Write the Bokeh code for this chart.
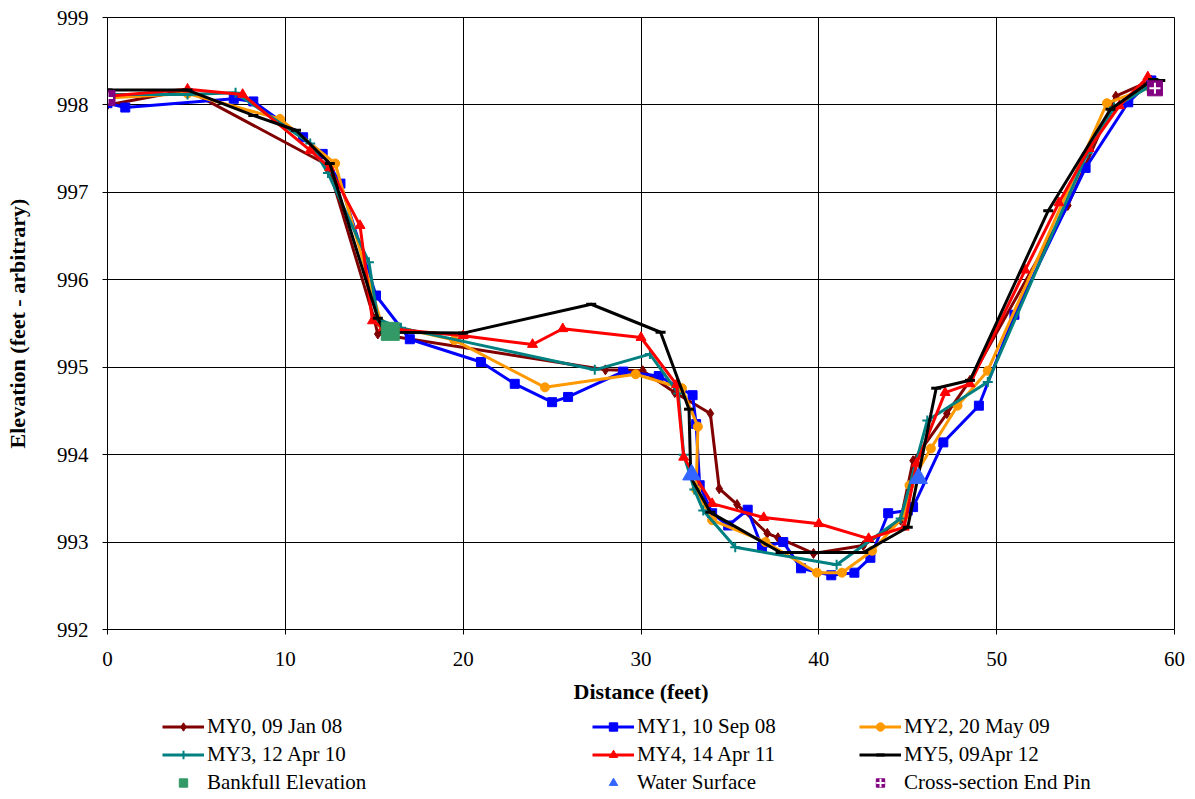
from bokeh.plotting import figure
from bokeh.layouts import column
from bokeh.models import Legend, LegendItem, Range1d, FixedTicker
from bokeh.embed import file_html
from bokeh.resources import INLINE

# ---- data ----
my0_x = [0, 4.5, 12.4, 15.0, 15.2, 28.0, 30.1, 31.9, 33.9, 34.4, 35.4, 37.1, 37.7, 39.7, 42.5, 44.6, 45.3, 47.2, 48.5, 54.0, 56.7, 58.7]
my0_y = [998.0, 998.17, 997.31, 995.55, 995.38, 994.97, 994.96, 994.71, 994.47, 993.61, 993.43, 993.1, 993.05, 992.87, 992.96, 993.25, 993.93, 994.47, 994.85, 996.85, 998.1, 998.28]

my1_x = [0, 1.0, 7.1, 8.2, 11.0, 12.1, 13.1, 15.1, 17.0, 21.0, 22.9, 25.0, 25.9, 29.0, 31.0, 32.9, 33.1, 33.3, 34.0, 34.9, 36.0, 36.8, 38.0, 39.0, 40.7, 42.0, 42.9, 43.9, 45.0, 45.3, 47.0, 49.0, 51.0, 55.0, 57.4, 58.7]
my1_y = [998.02, 997.97, 998.07, 998.04, 997.63, 997.44, 997.1, 995.82, 995.32, 995.06, 994.81, 994.6, 994.66, 994.95, 994.9, 994.68, 994.35, 993.65, 993.33, 993.19, 993.37, 992.94, 993.0, 992.7, 992.62, 992.65, 992.82, 993.33, 993.36, 993.4, 994.14, 994.56, 995.6, 997.28, 998.03, 998.28]

my2_x = [0, 4.5, 9.7, 12.8, 15.4, 19.5, 24.6, 29.7, 32.3, 33.2, 33.1, 34.0, 37.0, 39.9, 41.3, 43.0, 44.8, 45.1, 46.3, 47.8, 49.5, 56.2, 58.6]
my2_y = [998.08, 998.13, 997.84, 997.33, 995.5, 995.31, 994.77, 994.92, 994.76, 994.32, 993.6, 993.25, 993.0, 992.65, 992.65, 992.9, 993.3, 993.65, 994.07, 994.56, 994.96, 998.02, 998.2]

my3_x = [0, 4.5, 7.2, 11.4, 12.4, 14.7, 15.2, 16.5, 27.4, 30.5, 32.1, 32.4, 33.0, 33.5, 35.3, 41.0, 44.6, 46.1, 49.5, 55.1, 56.6, 58.5]
my3_y = [998.12, 998.12, 998.14, 997.56, 997.22, 996.2, 995.55, 995.45, 994.97, 995.15, 994.7, 994.0, 993.6, 993.36, 992.94, 992.74, 993.27, 994.39, 994.83, 997.45, 997.97, 998.2]

my4_x = [0, 4.5, 7.6, 11.4, 12.5, 14.2, 14.9, 15.5, 20.0, 23.9, 25.6, 30.0, 32.0, 32.4, 34.0, 36.9, 40.0, 42.8, 44.8, 45.5, 47.1, 48.5, 51.6, 53.5, 55.2, 56.9, 58.5]
my4_y = [998.1, 998.18, 998.12, 997.48, 997.28, 996.62, 995.53, 995.45, 995.36, 995.26, 995.44, 995.34, 994.8, 993.97, 993.44, 993.28, 993.21, 993.04, 993.17, 993.9, 994.71, 994.81, 996.11, 996.88, 997.5, 997.99, 998.32]

my5_x = [0, 4.5, 8.2, 10.6, 12.5, 15.2, 15.6, 20.0, 27.2, 31.1, 32.7, 32.8, 33.9, 37.85, 42.5, 45.0, 46.6, 48.5, 52.9, 56.4, 58.8, 59.2]
my5_y = [998.17, 998.17, 997.88, 997.71, 997.33, 995.56, 995.4, 995.39, 995.72, 995.4, 994.52, 993.74, 993.34, 992.88, 992.88, 993.17, 994.76, 994.85, 996.79, 997.95, 998.29, 998.28]

bankfull_x = [15.9]
bankfull_y = [995.41]
water_x = [32.85, 45.6]
water_y = [993.77, 993.73]
pin_x = [0, 58.9]
pin_y = [998.08, 998.19]

x_ticks = [0, 10, 20, 30, 40, 50, 60]
y_ticks = [992, 993, 994, 995, 996, 997, 998, 999]

labels = ["MY0, 09 Jan 08", "MY1, 10 Sep 08", "MY2, 20 May 09",
          "MY3, 12 Apr 10", "MY4, 14 Apr 11", "MY5, 09Apr 12",
          "Bankfull Elevation", "Water Surface", "Cross-section End Pin"]

FONT = "Liberation Serif"
W = 1195
H_MAIN = 710
H_LEG = 89

p = figure(width=W, height=H_MAIN, x_range=Range1d(0, 60), y_range=Range1d(992, 999),
           output_backend="svg", toolbar_location=None,
           min_border_left=107, min_border_right=21, min_border_top=17, min_border_bottom=81)
p.background_fill_color = "white"
p.border_fill_color = "white"
p.outline_line_color = "#000000"
p.outline_line_width = 1

for ax in (p.xaxis[0], p.yaxis[0]):
    ax.major_label_text_font = FONT
    ax.major_label_text_font_size = "21px"
    ax.major_label_text_color = "black"
    ax.axis_label_text_font = FONT
    ax.axis_label_text_font_size = "22px"
    ax.axis_label_text_font_style = "bold"
    ax.axis_label_text_color = "black"
    ax.axis_line_color = "black"
    ax.axis_line_width = 1
    ax.major_tick_line_color = "black"
    ax.major_tick_out = 5
    ax.major_tick_in = 0
    ax.minor_tick_line_color = None

p.xaxis.ticker = FixedTicker(ticks=x_ticks)
p.yaxis.ticker = FixedTicker(ticks=y_ticks)
p.xaxis.axis_label = "Distance (feet)"
p.yaxis.axis_label = "Elevation (feet - arbitrary)"
p.xaxis.major_label_standoff = 17
p.yaxis.major_label_standoff = 14
p.xaxis.axis_label_standoff = 10
p.yaxis.axis_label_standoff = 24

p.xgrid.grid_line_color = "#000000"
p.ygrid.grid_line_color = "#000000"
p.xgrid.grid_line_width = 1
p.ygrid.grid_line_width = 1
p.xgrid.ticker = FixedTicker(ticks=x_ticks)
p.ygrid.ticker = FixedTicker(ticks=y_ticks)

LW = 3
STYLES = [
    dict(color="#800000", marker="diamond", size=10, lw=1),
    dict(color="#0000FF", marker="square", size=9, lw=1),
    dict(color="#FF9900", marker="circle", size=9, lw=1),
    dict(color="#008080", marker="cross", size=10, lw=2),
    dict(color="#FF0000", marker="triangle", size=10, lw=1),
    dict(color="#000000", marker="dash", size=10, lw=3),
]
SERIES = [(my0_x, my0_y), (my1_x, my1_y), (my2_x, my2_y),
          (my3_x, my3_y), (my4_x, my4_y), (my5_x, my5_y)]


def draw_series(fig, xs, ys, st):
    ln = fig.line(xs, ys, line_color=st["color"], line_width=LW)
    sc = fig.scatter(xs, ys, marker=st["marker"], size=st["size"], fill_color=st["color"],
                     line_color=st["color"], line_width=st["lw"])
    return [ln, sc]


def draw_specials(fig, bx, by, wx, wy, px, py):
    bf = fig.scatter(bx, by, marker="square", size=18, fill_color="#339966", line_color="#339966")
    ws = fig.scatter(wx, wy, marker="triangle", size=18, fill_color="#3366FF", line_color="#3366FF")
    pn = fig.scatter(px, py, marker="square", size=15, fill_color="#800080", line_color="#800080")
    pc = fig.scatter(px, py, marker="cross", size=11, line_color="white", line_width=2)
    return [bf], [ws], [pn, pc]


for (xs, ys), st in zip(SERIES, STYLES):
    draw_series(p, xs, ys, st)
draw_specials(p, bankfull_x, bankfull_y, water_x, water_y, pin_x, pin_y)

# ---- legend strip: a second figure whose ranges keep its copies of the data out of view ----
q = figure(width=W, height=H_LEG, x_range=Range1d(1000, 1001), y_range=Range1d(0, 1),
           output_backend="svg", toolbar_location=None, x_axis_type=None, y_axis_type=None,
           min_border_left=0, min_border_right=0, min_border_top=0, min_border_bottom=0)
q.outline_line_color = None
q.background_fill_color = "white"
q.border_fill_color = "white"

leg_r = [draw_series(q, xs, ys, st) for (xs, ys), st in zip(SERIES, STYLES)]
bf_r, ws_r, pn_r = draw_specials(q, bankfull_x, bankfull_y, water_x, water_y, pin_x, pin_y)
all_r = leg_r + [bf_r, ws_r, pn_r]

cols = [(0, 3, 6), (1, 4, 7), (2, 5, 8)]
col_x = [55, 485, 752]
for idxs, vx in zip(cols, col_x):
    leg = Legend(items=[LegendItem(label=labels[i], renderers=all_r[i], index=0) for i in idxs],
                 location=(vx, 4), orientation="vertical")
    leg.label_text_font = FONT
    leg.label_text_font_size = "21px"
    leg.label_text_color = "black"
    leg.label_height = 21
    leg.glyph_height = 21
    leg.glyph_width = 42
    leg.label_standoff = 3
    leg.spacing = 3
    leg.padding = 0
    leg.margin = 0
    leg.border_line_color = None
    leg.background_fill_alpha = 0
    q.add_layout(leg)

layout = column(p, q, spacing=0)
open("out.html", "w").write(file_html(layout, INLINE))
